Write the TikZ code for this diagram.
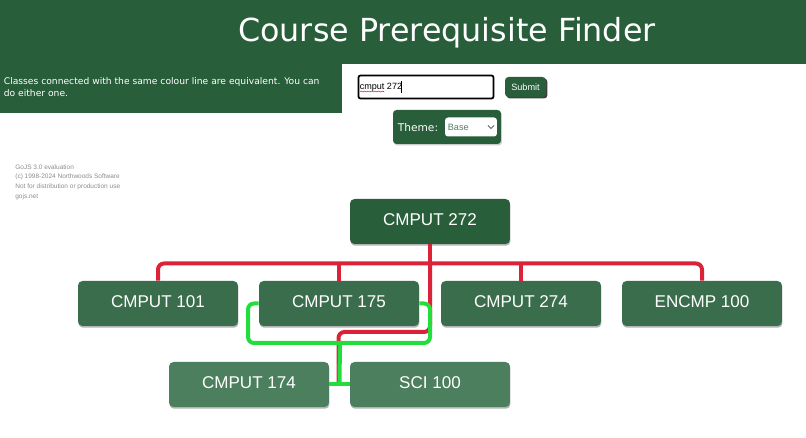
\documentclass[tikz,border=0pt]{standalone}
\usepackage{fontspec}
\setmainfont{Liberation Sans}
\newfontfamily\pagefont{DejaVu Sans}
\usepackage{xcolor}
\usetikzlibrary{calc,shadows,decorations.pathmorphing}
\definecolor{bandgreen}{HTML}{285E3A}
\definecolor{rootgreen}{HTML}{285E3A}
\definecolor{midgreen}{HTML}{3A6D4C}
\definecolor{lowgreen}{HTML}{4B7F5D}
\definecolor{reqred}{HTML}{DC2238}
\definecolor{altgreen}{HTML}{22DD3C}
\tikzset{%
	course/.style    = {rectangle, rounded corners=0.09cm, minimum width=3.2cm, minimum height=0.9cm, inner sep=0pt, text=white, text depth=0.06cm, font=\fontsize{9.7}{11}\selectfont, drop shadow={shadow xshift=0.01cm, shadow yshift=-0.035cm, opacity=.6}},
	redline/.style   = {draw=reqred, line width=0.08cm, rounded corners=0.12cm},
	greenline/.style = {draw=altgreen, line width=0.08cm, rounded corners=0.12cm},
	panel/.style     = {rectangle, fill=bandgreen, inner sep=0pt, text=white},
	notice/.style    = {anchor=west, inner sep=0pt, text=black!45, font=\fontsize{3.7}{4.5}\selectfont},
}

\begin{document}
\begin{tikzpicture}[x=0.02cm,y=-0.02cm]
	\useasboundingbox (0,0) rectangle (806,438);
	
	% page header
	\node[panel, minimum width=16.12cm, minimum height=1.28cm] (band) at (403,32) {};
	\node[panel, minimum width=6.84cm, minimum height=1cm] (info) at (171,88.5) {};
	\node[text=white, inner sep=0pt, font=\pagefont\fontsize{18.07}{22}\selectfont] (title) at (447,33) {Course Prerequisite Finder};
	\node[anchor=north west, inner sep=0pt, align=left, text=white, font=\pagefont\fontsize{5.22}{6.8}\selectfont] (infotext) at (3.5,77.5) {Classes connected with the same colour line are equivalent. You can\\do either one.};
	
	% search form
	\node[rectangle, draw=black, line width=0.035cm, rounded corners=0.04cm, minimum width=2.7cm, minimum height=0.46cm, inner sep=0pt] (search) at (426,87) {};
	\node[anchor=west, inner sep=0pt, font=\fontsize{5.15}{6}\selectfont] (query) at (359.5,87) {cmput 272};
	\draw[reqred, line width=0.012cm, decorate, decoration={snake,amplitude=.25pt,segment length=2pt}] (360,91.5) -- (384,91.5);
	\draw[black, line width=0.012cm] (401,81) -- (401,93);
	\node[rectangle, fill=bandgreen, rounded corners=0.07cm, minimum width=0.82cm, minimum height=0.4cm, inner sep=0pt, text=white, font=\fontsize{5.2}{6}\selectfont, drop shadow={shadow xshift=0.03cm, shadow yshift=-0.03cm, fill=black, opacity=.75}] (submit) at (525.5,87) {Submit};
	\node[panel, rounded corners=0.07cm, minimum width=2.16cm, minimum height=0.68cm, drop shadow={shadow xshift=0.02cm, shadow yshift=-0.03cm, opacity=.4}] (themebox) at (447,127) {};
	\node[anchor=west, inner sep=0pt, text=white, font=\pagefont\fontsize{6.05}{7}\selectfont] (themelabel) at (397.5,127.5) {Theme:};
	\node[rectangle, fill=white, rounded corners=0.06cm, minimum width=1.04cm, minimum height=0.38cm, inner sep=0pt] (themeselect) at (471,127) {};
	\node[anchor=west, inner sep=0pt, text=bandgreen!80, font=\fontsize{5.2}{6}\selectfont] (themevalue) at (447.5,127) {Base};
	\draw[black!60, line width=0.02cm] (488,125.5) -- (491,128.5) -- (494,125.5);
	
	% evaluation notice
	\node[notice] (gojsa) at (15,167) {GoJS 3.0 evaluation};
	\node[notice] (gojsb) at (15,177) {(c) 1998-2024 Northwoods Software};
	\node[notice] (gojsc) at (15,187) {Not for distribution or production use};
	\node[notice] (gojsd) at (15,197) {gojs.net};
	
	% courses
	\node[course, fill=rootgreen] (c272) at (430,221.5) {CMPUT 272};
	\node[course, fill=midgreen] (c101) at (158,303.5) {CMPUT 101};
	\node[course, fill=midgreen] (c175) at (339,303.5) {CMPUT 175};
	\node[course, fill=midgreen] (c274) at (521,303.5) {CMPUT 274};
	\node[course, fill=midgreen] (e100) at (702,303.5) {ENCMP 100};
	\node[course, fill=lowgreen] (c174) at (249,384.5) {CMPUT 174};
	\node[course, fill=lowgreen] (s100) at (430,384.5) {SCI 100};
	
	\coordinate (rail) at (430,263.5);
	\coordinate (split) at (430,332);
	\coordinate (meet) at ($(c174.east)!0.5!(s100.west)$);
	\coordinate (loop) at (340,343);
	
	% required courses
	\draw[redline] (c101.north) |- (rail) -| (e100.north);
	\draw[redline] (c272.south) -- (rail);
	\draw[redline] (c175.north) -- (c175.north |- rail);
	\draw[redline] (c274.north) -- (c274.north |- rail);
	\draw[redline] (rail) -- (split) -- (338.5,332) -- (338.5,384);
	
	% equivalent courses
	\draw[greenline] (c175.west) -- (248,303.5) -- (248,343) -- (loop);
	\draw[greenline] (c175.east) -- (430,303.5) -- (430,343) -- (loop);
	\draw[greenline] (loop) -- (meet);
	\draw[greenline] (c174.east) -- (s100.west);
\end{tikzpicture}
\end{document}
